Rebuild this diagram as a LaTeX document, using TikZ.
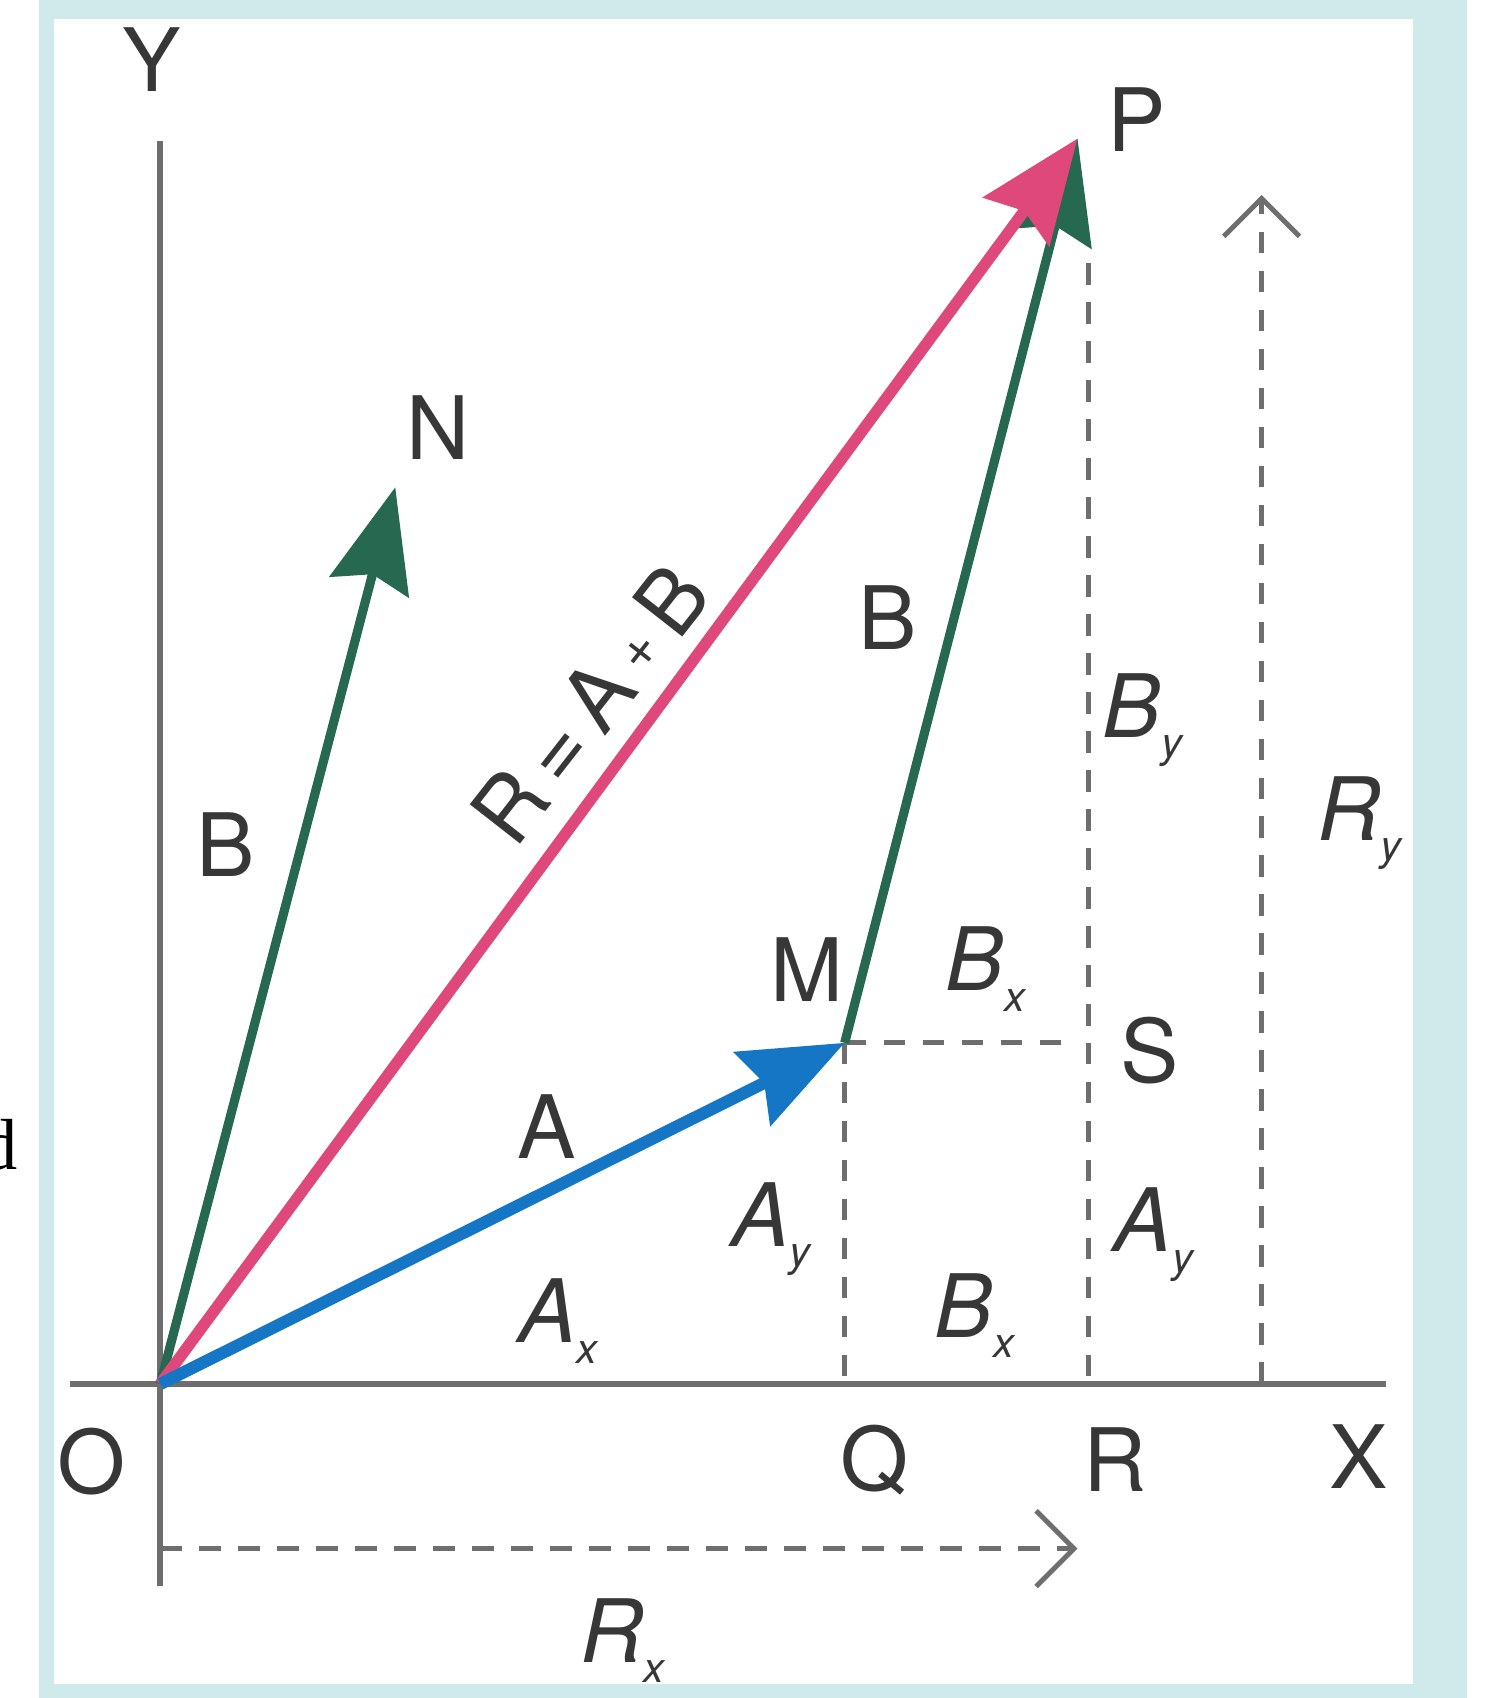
\documentclass[tikz,border=0pt]{standalone}
\usepackage{fontspec}
\setmainfont{TeX Gyre Heros}
\newfontfamily\cutserif{Liberation Serif}
\usepackage{tikz}
\usetikzlibrary{arrows.meta}

\definecolor{framecol}{RGB}{208,234,236}
\definecolor{axisgray}{RGB}{110,110,110}
\definecolor{txtgray}{RGB}{55,55,55}
\definecolor{vgreen}{RGB}{38,104,80}
\definecolor{vpink}{RGB}{222,72,122}
\definecolor{vblue}{RGB}{22,118,198}

\newcommand{\lowsub}[1]{\raisebox{-0.45ex}{\fontsize{11}{12}\selectfont #1}}

\begin{document}
\begin{tikzpicture}[
  axis/.style={line width=1.5pt, draw=axisgray},
  dashline/.style={line width=1.3pt, draw=axisgray, dash pattern=on 0.2cm off 0.16cm},
  comp/.style={dashline, -{Straight Barb[length=0.35cm, width=0.7cm, line width=1.3pt]}},
  vec/.style={line width=2.6pt, draw=#1, -{Stealth[length=0.95cm, width=0.75cm, inset=0.12cm, fill=#1]}},
  lbl/.style={font=\fontsize{23}{26}\selectfont, text=txtgray, inner sep=0pt},
  ilbl/.style={lbl, font=\fontsize{23}{26}\selectfont\itshape}
]
  \useasboundingbox (0,0) rectangle (13.78,15.68);
  % frame
  \fill[framecol] (0.36,0) rectangle (13.55,15.68);
  \fill[white] (0.50,0.13) rectangle (13.05,15.50);
  \node[anchor=base east, inner sep=0pt, font=\cutserif\fontsize{19}{20}\selectfont] (cutd) at (0.17,4.88) {d};

  % points
  \coordinate (O) at (1.48,2.90);
  \coordinate (M) at (7.80,6.05);
  \coordinate (N) at (3.65,11.18);
  \coordinate (P) at (9.95,14.40);
  \coordinate (Q) at (7.80,2.90);
  \coordinate (R) at (10.05,2.90);
  \coordinate (Stop) at (9.90,6.05);
  \coordinate (Rtop) at (10.05,13.25);
  \coordinate (Yt) at (1.48,14.38);
  \coordinate (Yb) at (1.48,1.03);
  \coordinate (Xl) at (0.65,2.90);
  \coordinate (Xr) at (12.80,2.90);
  \coordinate (Ry0) at (11.65,2.90);
  \coordinate (Ry1) at (11.65,13.88);
  \coordinate (Rx0) at (1.48,1.38);
  \coordinate (Rx1) at (9.95,1.38);

  % axes
  \draw[axis] (Yb) -- (Yt);
  \draw[axis] (Xl) -- (Xr);

  % components
  \draw[dashline] (M) -- (Q);
  \draw[dashline] (M) -- (Stop);
  \draw[dashline] (Rtop) -- (R);
  \draw[comp] (Ry0) -- (Ry1);
  \draw[comp] (Rx0) -- (Rx1);

  % vectors
  \draw[vec=vgreen, line width=2.4pt] (O) -- (N);
  \draw[vec=vgreen, line width=2.4pt] (M) -- (P);
  \draw[vec=vpink, line width=3pt] (O) -- (P);
  \draw[vec=vblue, line width=3.2pt] (O) -- (M);

  % labels
  \node[lbl] (labY) at (1.40,15.13) {Y};
  \node[lbl] (labX) at (12.55,2.23) {X};
  \node[lbl] (labO) at (0.85,2.18) {O};
  \node[lbl] (labQ) at (8.08,2.20) {Q};
  \node[lbl] (labR) at (10.30,2.20) {R};
  \node[lbl] (labP) at (10.50,14.58) {P};
  \node[lbl] (labN) at (4.05,11.73) {N};
  \node[lbl] (labM) at (7.45,6.73) {M};
  \node[lbl] (labS) at (10.62,5.98) {S};
  \node[lbl] (labB1) at (2.08,7.88) {B};
  \node[lbl] (labB2) at (8.20,9.98) {B};
  \node[lbl] (labA) at (5.05,5.28) {A};
  \node[lbl, rotate=52] (labRes) at (5.45,9.18) {R\,=\,A\,\raisebox{2.5pt}{\fontsize{15}{15}\selectfont+}\,B};
  \node[ilbl] (labAx) at (5.15,3.48) {A\lowsub{x}};
  \node[ilbl] (labAy1) at (7.12,4.33) {A\lowsub{y}};
  \node[ilbl] (labBx1) at (9.00,3.53) {B\lowsub{x}};
  \node[ilbl] (labBx2) at (9.10,6.73) {B\lowsub{x}};
  \node[ilbl] (labAy2) at (10.65,4.28) {A\lowsub{y}};
  \node[ilbl] (labBy) at (10.55,9.03) {B\lowsub{y}};
  \node[ilbl] (labRy) at (12.55,8.08) {R\lowsub{y}};
  \node[ilbl] (labRx) at (5.75,0.53) {R\lowsub{x}};
\end{tikzpicture}
\end{document}
